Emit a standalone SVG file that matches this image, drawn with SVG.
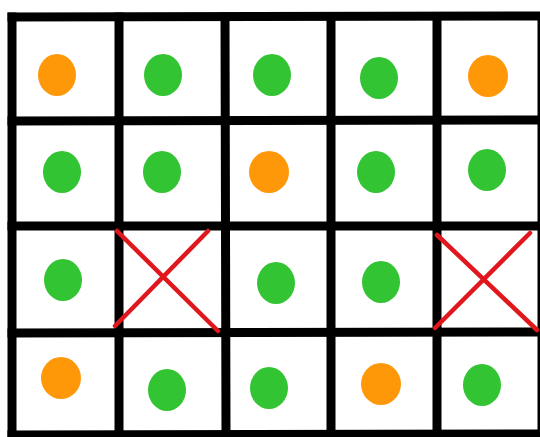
<svg xmlns="http://www.w3.org/2000/svg" width="540" height="437" viewBox="0 0 540 437">
  <style>
    .grid { stroke: #000; stroke-width: 9; stroke-linecap: square; fill: none; }
    .g { fill: #33c433; }
    .o { fill: #ff9808; }
    .x { stroke: #e0181e; stroke-width: 4.5; stroke-linecap: round; fill: none; }
  </style>
  <rect width="540" height="437" fill="#fff"/>
  <g id="grid">
    <line class="grid" x1="12" y1="17" x2="12" y2="434"/>
    <line class="grid" x1="119" y1="17" x2="119" y2="434"/>
    <line class="grid" x1="225" y1="17" x2="226" y2="434"/>
    <line class="grid" x1="331" y1="17" x2="331" y2="434"/>
    <line class="grid" x1="437" y1="17" x2="437" y2="434"/>
    <line class="grid" x1="542" y1="17" x2="542" y2="434"/>
    <line class="grid" x1="12" y1="17" x2="542" y2="16"/>
    <line class="grid" x1="12" y1="121" x2="542" y2="120"/>
    <line class="grid" x1="12" y1="226" x2="542" y2="226"/>
    <line class="grid" x1="12" y1="333" x2="542" y2="332"/>
    <line class="grid" x1="12" y1="435" x2="542" y2="434"/>
  </g>
  <g id="row1">
    <g id="c11"><ellipse class="o" cx="57" cy="75" rx="19" ry="21"/></g>
    <g id="c12"><ellipse class="g" cx="163" cy="75" rx="19" ry="21"/></g>
    <g id="c13"><ellipse class="g" cx="272" cy="75" rx="19" ry="21"/></g>
    <g id="c14"><ellipse class="g" cx="379" cy="78" rx="19" ry="21"/></g>
    <g id="c15"><ellipse class="o" cx="488" cy="76" rx="20" ry="21"/></g>
  </g>
  <g id="row2">
    <g id="c21"><ellipse class="g" cx="62" cy="172" rx="19" ry="21"/></g>
    <g id="c22"><ellipse class="g" cx="162" cy="172" rx="19" ry="21"/></g>
    <g id="c23"><ellipse class="o" cx="269" cy="172" rx="20" ry="21"/></g>
    <g id="c24"><ellipse class="g" cx="376" cy="172" rx="19" ry="21"/></g>
    <g id="c25"><ellipse class="g" cx="487" cy="170" rx="19" ry="21"/></g>
  </g>
  <g id="row3">
    <g id="c31"><ellipse class="g" cx="63" cy="280" rx="19" ry="21"/></g>
    <g id="c32"><line class="x" x1="115" y1="326" x2="208" y2="231"/><line class="x" x1="117" y1="231" x2="218" y2="331"/></g>
    <g id="c33"><ellipse class="g" cx="276" cy="283" rx="19" ry="21"/></g>
    <g id="c34"><ellipse class="g" cx="381" cy="282" rx="19" ry="21"/></g>
    <g id="c35"><line class="x" x1="435" y1="328" x2="530" y2="233"/><line class="x" x1="437" y1="235" x2="537" y2="330"/></g>
  </g>
  <g id="row4">
    <g id="c41"><ellipse class="o" cx="61" cy="378" rx="20" ry="21"/></g>
    <g id="c42"><ellipse class="g" cx="167" cy="390" rx="19" ry="21"/></g>
    <g id="c43"><ellipse class="g" cx="269" cy="388" rx="19" ry="21"/></g>
    <g id="c44"><ellipse class="o" cx="381" cy="384" rx="20" ry="21"/></g>
    <g id="c45"><ellipse class="g" cx="482" cy="385" rx="19" ry="21"/></g>
  </g>
</svg>
